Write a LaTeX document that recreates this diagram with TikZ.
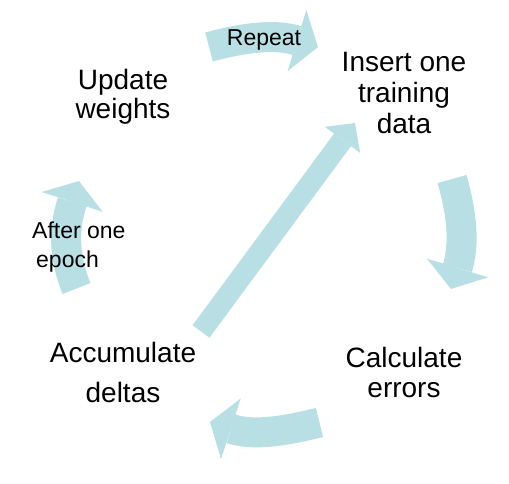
\documentclass[tikz,border=0pt]{standalone}
\usepackage{fontspec}
\setmainfont{Liberation Sans}
\usetikzlibrary{arrows.meta}
\definecolor{cyclefill}{HTML}{B8DFE3}
\tikzstyle{cyclearrow}=[draw=cyclefill,line width=30pt,-{Triangle[width=64pt,length=22pt,line width=0pt]}]
\tikzstyle{diagarrow}=[draw=cyclefill,line width=21pt,-{Triangle[width=44pt,length=21pt,line width=0pt]}]
\tikzstyle{stage}=[inner sep=0pt,align=center,font=\fontsize{28}{29.5}\selectfont]
\tikzstyle{looplabel}=[inner sep=0pt,font=\fontsize{23}{29}\selectfont]

\begin{document}
\begin{tikzpicture}[x=1pt,y=1pt]
	\useasboundingbox (0,0) rectangle (509,484);

	\coordinate (repS) at (209,437);
	\coordinate (repE) at (318,437);
	\coordinate (insS) at (452,305);
	\coordinate (insE) at (451,195);
	\coordinate (errS) at (319.5,61.5);
	\coordinate (errE) at (210,62);
	\coordinate (epoS) at (76.5,195.5);
	\coordinate (epoE) at (79,303);
	\coordinate (accS) at (201,152.5);
	\coordinate (accE) at (355,361);

	\draw[cyclearrow] (repS) to[out=15,in=163] (repE);
	\draw[cyclearrow] (insS) to[out=-74,in=73] (insE);
	\draw[cyclearrow] (errS) to[out=194,in=-18] (errE);
	\draw[cyclearrow] (epoS) to[out=112,in=-108] (epoE);
	\draw[diagarrow] (accS) -- (accE);

	\node[stage,font=\fontsize{28}{31}\selectfont] (insert) at (404,390.8) {Insert one\\training\\data};
	\node[stage] (calc) at (404,111.5) {Calculate\\errors};
	\node[stage] (accum) at (123,111.2) {Accumulate\\[10.5pt]deltas};
	\node[stage] (update) at (123,387.2) {Update\\weights};

	\node[looplabel] (repeat) at (264,444.5) {Repeat};
	\node[looplabel,align=left,anchor=west] (epoch) at (32,236.5) {After one\\\hspace*{4pt}epoch};
\end{tikzpicture}
\end{document}
